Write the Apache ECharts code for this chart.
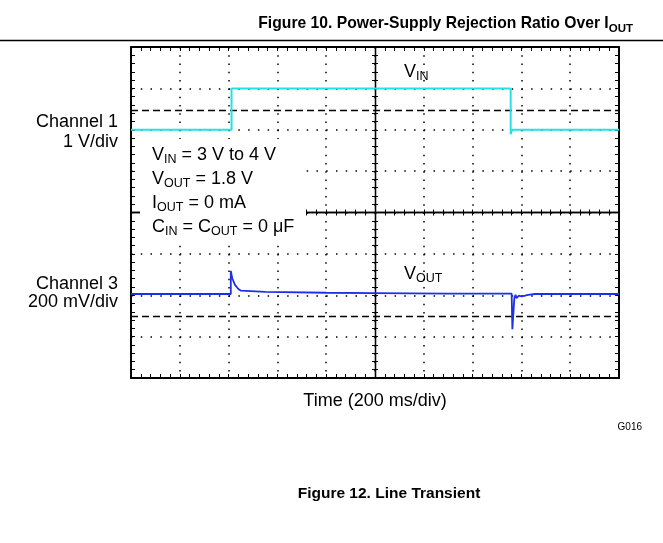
<!DOCTYPE html>
<html><head><meta charset="utf-8">
<script src="https://cdn.jsdelivr.net/npm/echarts@6/dist/echarts.min.js"></script>
<style>html,body{margin:0;padding:0;background:#fff}#c{width:663px;height:543px}</style>
</head><body><div id="c"></div>
<script>
// Time in ms (200 ms/div, trigger at centre), levels in screen divisions (+4 top .. -4 bottom)
const vinTime  = [-1000, -588, -588, 556, 556, 562, 1000];
const vinLevel = [2.0, 2.0, 3.0, 3.0, 1.89, 2.0, 2.0];
const voutTime  = [-1000, -591, -591, -585, -574, -560, -549, -450, -200, 0, 300, 560, 563, 569, 571, 576, 580, 590, 601, 615, 628, 656, 1000];
const voutLevel = [-1.97, -1.97, -1.41, -1.59, -1.75, -1.85, -1.89, -1.92, -1.94, -1.95, -1.96, -1.96, -2.82, -2.82, -2.07, -1.99, -2.07, -2.01, -2.03, -2.01, -1.99, -1.97, -1.97];
const refLevels = [2.47, -2.5];
const xRange = [-1000, 1000], xStep = 200;
const yRange = [-4, 4], yStep = 1;

const FONT = '"Liberation Sans", Arial, Helvetica, sans-serif';
const BLACK = '#000';
const chart = echarts.init(document.getElementById('c'), null, {renderer: 'canvas'});

function zip(a, b) { return a.map((t, i) => [t, b[i]]); }

function baseAxis(isX) {
  return {
    type: 'value', min: isX ? xRange[0] : yRange[0], max: isX ? xRange[1] : yRange[1],
    interval: isX ? xStep : yStep, axisLabel: {show: false}, silent: true,
    splitLine: {show: false}
  };
}
function frame(isX, pos, withSplit) {
  const a = baseAxis(isX);
  a.position = pos;
  a.axisLine = {show: true, onZero: false, lineStyle: {color: BLACK, width: 2}};
  a.axisTick = {show: true, inside: true, length: 4, lineStyle: {color: BLACK, width: 1}};
  a.minorTick = {show: true, splitNumber: 5, length: 4, lineStyle: {color: BLACK, width: 1}};
  if (withSplit) {
    a.splitLine = {show: true, lineStyle: {color: BLACK, width: 1.5,
      type: isX ? [1.5, 6.78] : [1.5, 8.26]}};
  }
  return a;
}
function centre(isX, pos, inside) {
  const a = baseAxis(isX);
  a.position = pos;
  a.axisLine = {show: true, onZero: true, onZeroAxisIndex: 0, lineStyle: {color: BLACK, width: 1.3}};
  a.axisTick = {show: true, inside: inside, length: 3, lineStyle: {color: BLACK, width: 1}};
  a.minorTick = {show: true, splitNumber: 5, length: 3, lineStyle: {color: BLACK, width: 1}};
  return a;
}

const sub = {fontSize: 12.5, fontFamily: FONT, fill: BLACK, padding: [10, 0, 0, 0], lineHeight: 24};
const nor = {fontSize: 18, fontFamily: FONT, fill: BLACK, lineHeight: 24};

function txt(x, y, text, opts) {
  return {type: 'text', z: 101, silent: true,
    style: Object.assign({x: x, y: y, text: text, font: '18px ' + FONT, fill: BLACK,
      align: 'left', verticalAlign: 'middle', rich: {n: nor, s: sub}}, opts || {})};
}

const option = {
  animation: false,
  backgroundColor: '#fff',
  grid: {left: 131, top: 47, width: 488, height: 331, containLabel: false},
  xAxis: [frame(true, 'bottom', true), frame(true, 'top', false), centre(true, 'bottom', true), centre(true, 'bottom', false)],
  yAxis: [frame(false, 'left', true), frame(false, 'right', false), centre(false, 'left', true), centre(false, 'left', false)],
  series: [
    {type: 'line', name: 'VIN', xAxisIndex: 0, yAxisIndex: 0, data: zip(vinTime, vinLevel),
     showSymbol: false, symbol: 'none', lineStyle: {color: '#22e3e3', width: 2}, z: 5,
     markLine: {silent: true, symbol: ['none', 'none'], label: {show: false},
       lineStyle: {color: BLACK, width: 1.3, type: [7, 4]},
       data: refLevels.map(v => ({yAxis: v}))}},
    {type: 'line', name: 'VOUT', xAxisIndex: 0, yAxisIndex: 0, data: zip(voutTime, voutLevel),
     showSymbol: false, symbol: 'none', lineStyle: {color: '#1f2fe8', width: 1.8}, z: 6}
  ],
  graphic: [
    {type: 'line', z: 100, silent: true, shape: {x1: 0, y1: 40.5, x2: 663, y2: 40.5}, style: {stroke: BLACK, lineWidth: 1.5}},
    txt(633, 24, '{b|Figure 10. Power-Supply Rejection Ratio Over I}{bs|OUT}', {align: 'right',
      rich: {b: {fontSize: 15.7, fontWeight: 'bold', fontFamily: FONT, fill: BLACK},
             bs: {fontSize: 11.5, fontWeight: 'bold', fontFamily: FONT, fill: BLACK, padding: [9, 0, 0, 0]}}}),
    txt(118, 122, 'Channel 1', {align: 'right'}),
    txt(118, 142, '1 V/div', {align: 'right'}),
    txt(118, 284, 'Channel 3', {align: 'right'}),
    txt(118, 302, '200 mV/div', {align: 'right'}),
    {type: 'rect', z: 100, silent: true, shape: {x: 140, y: 139, width: 166, height: 104}, style: {fill: '#fff'}},
    txt(152, 155, '{n|V}{s|IN}{n| = 3 V to 4 V}'),
    txt(152, 179, '{n|V}{s|OUT}{n| = 1.8 V}'),
    txt(152, 203, '{n|I}{s|OUT}{n| = 0 mA}'),
    txt(152, 227, '{n|C}{s|IN}{n| = C}{s|OUT}{n| = 0 \u03bcF}'),
    txt(404, 72, '{n|V}{s|IN}'),
    txt(404, 274, '{n|V}{s|OUT}'),
    txt(375, 401, 'Time (200 ms/div)', {align: 'center'}),
    txt(642, 427, 'G016', {align: 'right', font: '10px ' + FONT}),
    txt(389, 494, 'Figure 12. Line Transient', {align: 'center', font: 'bold 15.5px ' + FONT})
  ]
};
chart.setOption(option);
</script>
</body></html>
